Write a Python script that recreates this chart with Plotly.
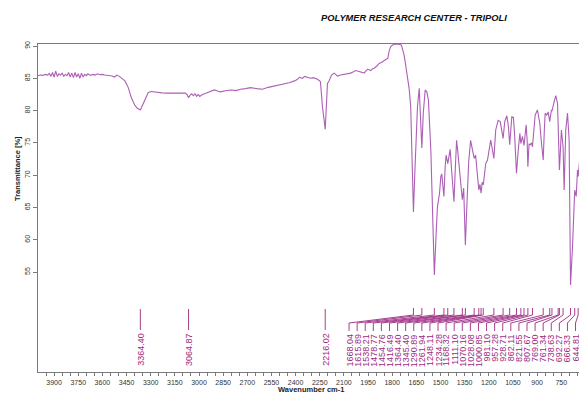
import plotly.graph_objects as go
import numpy as np

# ---- spectrum (wavenumber cm-1, transmittance %) ----
wavenumber = [
    4000, 3985, 3970, 3955, 3940, 3930, 3920, 3910, 3900, 3890, 3880, 3870, 3860, 3850, 3840,
    3830, 3820, 3810, 3800, 3790, 3780, 3770, 3760, 3750, 3740, 3730, 3720, 3710, 3700, 3690,
    3675, 3660, 3645, 3630, 3615, 3600, 3585, 3570, 3555, 3540, 3525, 3510, 3495, 3480, 3460,
    3440, 3420, 3400, 3385, 3364.4, 3350, 3335, 3315, 3295, 3270, 3230, 3200, 3160, 3130, 3100,
    3085, 3075, 3064.87, 3055, 3045, 3035, 3025, 3015, 3005, 2995, 2980, 2966, 2940, 2904, 2880,
    2866, 2830, 2800, 2770, 2742, 2710, 2680, 2640, 2606, 2570, 2531, 2500, 2469, 2440, 2407,
    2390, 2376, 2365, 2357, 2345, 2338, 2325, 2307, 2290, 2264, 2246, 2233, 2216.02, 2208, 2202,
    2190, 2177, 2160, 2150, 2140, 2120, 2098, 2080, 2059, 2040, 2028, 2010, 1997, 1985, 1974,
    1962, 1953, 1940, 1933, 1920, 1912, 1895, 1881, 1865, 1850, 1835, 1827, 1819, 1809, 1798,
    1780, 1767, 1750, 1742, 1734, 1726, 1718, 1709, 1700, 1695, 1685, 1677, 1668.04, 1660, 1653,
    1643, 1632, 1624, 1615.89, 1607, 1595, 1585, 1575, 1560, 1548, 1538.21, 1527, 1519, 1506, 1498,
    1492, 1478.77, 1471, 1465, 1454.76, 1447, 1440, 1430, 1416.49, 1408, 1400, 1392, 1385, 1364.40,
    1356, 1345.40, 1335, 1325, 1313, 1301, 1290.89, 1282, 1261.94, 1255, 1248.11, 1241, 1234.28,
    1219, 1208, 1188, 1177, 1168.32, 1157, 1142, 1129, 1111.10, 1101, 1088, 1078, 1070.16, 1057,
    1047, 1039, 1028.08, 1017, 1007, 1000.85, 991, 981.10, 976, 968, 962, 957.28, 950, 943, 935,
    928.71, 920, 912, 898, 883, 873, 862.11, 855, 850, 840, 831, 821.55, 811, 807.67, 794, 784,
    773, 769.00, 761.34, 757, 749, 738.63, 732, 722, 711, 701, 697, 692.27, 680, 666.33, 657,
    649, 644.81, 632, 622.77, 616, 607, 600, 590,
]
transmittance = [
    85.4, 85.5, 85.45, 85.6, 85.5, 85.75, 85.3, 85.9, 85.2, 86.1, 85.3, 85.7, 85.5, 85.8, 85.3,
    85.6, 85.4, 85.9, 85.2, 85.8, 85.1, 85.9, 85.2, 85.7, 85.0, 85.8, 85.2, 85.6, 85.4, 85.7,
    85.45, 85.6, 85.5, 85.7, 85.55, 85.6, 85.5, 85.45, 85.5, 85.35, 85.2, 85.5, 85.3, 85.0, 84.6,
    83.6, 82.0, 80.9, 80.4, 80.1, 80.9, 81.9, 82.8, 82.95, 82.85, 82.75, 82.7, 82.7, 82.65, 82.6,
    82.7, 82.5, 82.0, 82.4, 82.6, 82.3, 82.6, 82.2, 82.5, 82.2, 82.5, 82.6, 82.9, 83.2, 83.0,
    82.9, 83.1, 83.2, 83.1, 83.3, 83.4, 83.55, 83.4, 83.3, 83.6, 83.8, 84.0, 84.2, 84.3, 84.6,
    84.8, 85.15, 85.0, 85.0, 85.3, 85.25, 85.1, 85.0, 85.1, 84.85, 84.5, 80.6, 77.1, 80.5, 84.2,
    84.7, 85.5, 85.8, 85.5, 85.35, 85.5, 85.6, 85.7, 85.8, 86.0, 86.2, 86.1, 86.0, 85.9, 85.8,
    86.2, 86.4, 86.3, 86.2, 86.5, 86.55, 86.9, 87.3, 87.5, 87.8, 88.0, 88.1, 89.2, 89.9, 90.15,
    90.3, 90.3, 90.25, 90.1, 89.5, 88.6, 87.3, 85.8, 84.2, 83.45, 80.6, 72.0, 64.3, 70.0, 75.45,
    80.6, 83.45, 79.1, 74.2, 79.6, 83.2, 82.9, 81.6, 73.9, 62.55, 54.55, 61.05, 65.1, 67.2, 69.8,
    70.2, 66.7, 71.3, 73.1, 71.8, 73.4, 74.0, 70.5, 65.9, 71.0, 75.4, 73.5, 71.3, 66.2,
    68.0, 59.2, 66.0, 72.0, 75.4, 73.9, 72.6, 73.1, 67.7, 68.6, 67.2, 68.9, 68.5,
    71.8, 72.35, 75.45, 73.9, 72.6, 77.0, 78.5, 78.3, 75.7, 78.3, 79.2, 77.5, 74.7, 79.05,
    78.95, 75.95, 70.3, 73.9, 76.5, 74.9, 76.0, 74.6, 76.5, 77.8, 75.5, 71.3, 74.8, 74.7, 75.0,
    74.4, 77.0, 79.3, 80.1, 78.0, 75.0, 72.35, 77.0, 79.6, 79.3, 79.8, 78.3, 80.1, 79.9, 81.4, 82.3,
    81.1, 77.0, 70.8, 72.9, 77.0, 74.4, 67.7, 77.0, 79.6, 75.45, 64.0, 53.0, 58.9, 67.7, 66.7,
    70.8, 69.8, 73.4, 71.8, 65.65, 70.8, 72.5, 70.0,
]

# ---- peak labels ----
isolated_peaks = [3364.40, 3064.87, 2216.02]
grouped_peaks = [1668.04, 1615.89, 1538.21, 1478.77, 1454.76, 1416.49, 1364.40, 1345.40,
                 1290.89, 1261.94, 1248.11, 1234.28, 1168.32, 1111.10, 1070.16, 1028.08,
                 1000.85, 981.10, 957.28, 928.71, 862.11, 821.55, 807.67, 769.00, 761.34,
                 738.63, 692.27, 666.33, 644.81, 622.77]

x_ticks = list(range(3900, 599, -150))
y_ticks = [55, 60, 65, 70, 75, 80, 85, 90]

SPEC = "#ad5fb5"
LAB = "#9c2a82"
AX = "#7a7a7a"
FONT = "Liberation Sans, Arial"

# page offset of the figure div (default body margin) and plot area in page pixels
OFF = 8
Lp, Rp, Tp, Bp = 38, 587, 44, 372
W, H = Rp - Lp, Bp - Tp
def px_x(px):
    return (px - Lp) / W
def px_y(py):
    return (Bp - py) / H

fig = go.Figure()
fig.add_trace(go.Scatter(x=wavenumber, y=transmittance, mode="lines",
                         line=dict(color=SPEC, width=1.1), hoverinfo="skip",
                         showlegend=False))

shapes = []
annotations = []
lw = 0.9
lab_font = dict(size=9, color=LAB, family=FONT)
for p in isolated_peaks:
    shapes.append(dict(type="line", xref="x", yref="paper", x0=p, x1=p,
                       y0=px_y(330), y1=px_y(309), line=dict(color=LAB, width=lw)))
    annotations.append(dict(x=p, xref="x", y=px_y(332), yref="paper", text=f"{p:.2f}",
                            textangle=-90, xanchor="center", yanchor="top", showarrow=False,
                            borderpad=0, font=lab_font))
label_pos = np.linspace(2068, 611, len(grouped_peaks))
for p, lx in zip(grouped_peaks, label_pos):
    shapes.append(dict(type="line", xref="x", yref="paper", x0=p, x1=p,
                       y0=px_y(315), y1=px_y(308), line=dict(color=LAB, width=lw)))
    shapes.append(dict(type="line", xref="x", yref="paper", x0=p, x1=lx,
                       y0=px_y(315), y1=px_y(323), line=dict(color=LAB, width=lw)))
    shapes.append(dict(type="line", xref="x", yref="paper", x0=lx, x1=lx,
                       y0=px_y(323), y1=px_y(331), line=dict(color=LAB, width=lw)))
    annotations.append(dict(x=lx, xref="x", y=px_y(333), yref="paper", text=f"{p:.2f}",
                            textangle=-90, xanchor="center", yanchor="top", showarrow=False,
                            borderpad=0, font=lab_font))

annotations.append(dict(x=px_x(413.7), xref="paper", y=px_y(18), yref="paper",
                        text="<b><i>POLYMER RESEARCH CENTER - TRIPOLI</i></b>",
                        xanchor="center", yanchor="middle", showarrow=False,
                        font=dict(size=9.3, color="#111", family=FONT)))
annotations.append(dict(x=px_x(17), xref="paper", y=px_y(169), yref="paper",
                        text="<b>Transmittance [%]</b>",
                        textangle=-90, showarrow=False, xanchor="center", yanchor="middle",
                        font=dict(size=7.5, color="#222", family=FONT)))
annotations.append(dict(x=px_x(310.5), xref="paper", y=px_y(389), yref="paper",
                        text="<b>Wavenumber cm-1</b>",
                        showarrow=False, xanchor="center", yanchor="middle",
                        font=dict(size=7.5, color="#222", family=FONT)))

fig.update_layout(
    width=587, height=397,
    margin=dict(l=Lp - OFF, r=587 - (Rp - OFF), t=Tp - OFF, b=397 - (Bp - OFF),
                autoexpand=False),
    paper_bgcolor="white", plot_bgcolor="white",
    shapes=shapes, annotations=annotations,
    font=dict(family=FONT, size=7, color="#333"),
    xaxis=dict(range=[4000, 590], tickvals=x_ticks, ticks="outside", ticklen=3,
               tickcolor=AX, showline=True, linecolor=AX, linewidth=1.2, mirror=True,
               showgrid=False, zeroline=False, automargin=False,
               tickfont=dict(size=7, color="#333"),
               minor=dict(tickvals=list(range(3950, 599, -50)), ticks="outside", ticklen=3,
                          tickcolor=AX, showgrid=False)),
    yaxis=dict(range=[39.53, 90.31], tickvals=y_ticks, ticks="outside", ticklen=4,
               tickcolor=AX, showline=True, linecolor=AX, linewidth=1.2, mirror=False,
               showgrid=False, zeroline=False, tickangle=-90, automargin=False,
               tickfont=dict(size=7, color="#333")),
)

fig.write_html("out.html")
